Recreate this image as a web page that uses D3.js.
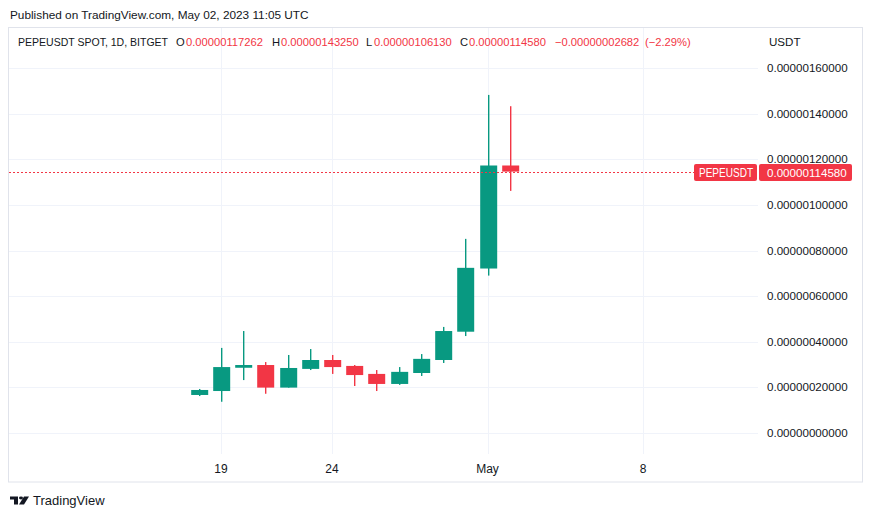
<!DOCTYPE html>
<html><head><meta charset="utf-8">
<script src="https://cdn.jsdelivr.net/npm/d3@7"></script>
<style>
html,body{margin:0;padding:0;background:#fff;}
svg{display:block;font-family:"Liberation Sans",Arial,sans-serif;}
</style></head>
<body><svg id="c" width="873" height="518"></svg>
<script>
const dates = ["2023-04-18","2023-04-19","2023-04-20","2023-04-21","2023-04-22","2023-04-23","2023-04-24","2023-04-25","2023-04-26","2023-04-27","2023-04-28","2023-04-29","2023-04-30","2023-05-01","2023-05-02"];
const openV  = [1.667e-7,1.84e-7,2.86e-7,2.98e-7,1.99e-7,2.81e-7,3.20e-7,2.94e-7,2.59e-7,2.15e-7,2.63e-7,3.20e-7,4.44e-7,7.21e-7,1.17262e-6];
const highV  = [1.93e-7,3.73e-7,4.47e-7,3.11e-7,3.42e-7,3.68e-7,3.42e-7,2.98e-7,2.76e-7,2.89e-7,3.46e-7,4.65e-7,8.51e-7,1.482e-6,1.4325e-6];
const lowV   = [1.62e-7,1.37e-7,2.32e-7,1.72e-7,1.99e-7,2.76e-7,2.59e-7,2.06e-7,1.84e-7,2.11e-7,2.50e-7,3.07e-7,4.25e-7,6.90e-7,1.0613e-6];
const closeV = [1.886e-7,2.89e-7,2.98e-7,1.99e-7,2.85e-7,3.20e-7,2.89e-7,2.54e-7,2.15e-7,2.68e-7,3.25e-7,4.47e-7,7.24e-7,1.17262e-6,1.1458e-6];
const yTicks = [0,2e-7,4e-7,6e-7,8e-7,1e-6,1.2e-6,1.4e-6,1.6e-6];
const xTickDates = ["2023-04-19","2023-04-24","2023-05-01","2023-05-08"];
const xTickLabels = ["19","24","May","8"];
const lastPrice = 1.1458e-6;
const symbol = "PEPEUSDT";
const changeV = -2.682e-8;
const changePct = "(\u22122.29%)";

const GREEN = "#089981", RED = "#f23645", TXT = "#131722", GRID = "#f0f3fa";
const svg = d3.select("#c");
const parse = d3.utcParse("%Y-%m-%d");

const x = d3.scaleUtc().domain([parse("2023-04-19"), parse("2023-05-08")]).range([221, 643]);
const y = d3.scaleLinear().domain([0, 1.6e-6]).range([433, 68]);
const dayW = x(parse("2023-04-20")) - x(parse("2023-04-19"));
const bodyW = Math.round(dayW * 0.76);

const plotL = 9, plotR = 758, plotT = 28, plotB = 454;

// frame
svg.append("rect").attr("x",8.5).attr("y",27.5).attr("width",854).attr("height",454.5)
  .attr("fill","none").attr("stroke","#e0e3eb");

// grid
svg.append("g").selectAll("line").data(yTicks).join("line")
  .attr("x1",plotL).attr("x2",plotR).attr("y1",d=>Math.round(y(d))+0.5).attr("y2",d=>Math.round(y(d))+0.5)
  .attr("stroke",GRID);
svg.append("g").selectAll("line").data(xTickDates).join("line")
  .attr("x1",d=>Math.round(x(parse(d)))+0.5).attr("x2",d=>Math.round(x(parse(d)))+0.5)
  .attr("y1",plotT).attr("y2",plotB).attr("stroke",GRID);

// x tick labels
svg.append("g").selectAll("text").data(xTickDates).join("text")
  .attr("x",d=>x(parse(d))).attr("y",473).attr("text-anchor","middle")
  .attr("font-size",12).attr("fill",TXT).text((d,i)=>xTickLabels[i]);

// y tick labels
const fmt = d3.format(".11f");
svg.append("g").selectAll("text").data(yTicks).join("text")
  .attr("x",767).attr("y",d=>y(d)+4).attr("font-size",11.6).attr("fill",TXT).text(d=>fmt(d));
svg.append("text").attr("x",769).attr("y",46).attr("font-size",11.6).attr("fill",TXT).text("USDT");

// candles
const data = dates.map((d,i)=>({t:parse(d),o:openV[i],h:highV[i],l:lowV[i],c:closeV[i]}));
const g = svg.append("g");
data.forEach(d=>{
  const cx = Math.round(x(d.t));
  const col = d.c >= d.o ? GREEN : RED;
  g.append("rect").attr("x",cx).attr("width",1.4)
    .attr("y",y(d.h)).attr("height",y(d.l)-y(d.h)).attr("fill",col);
  const top = y(Math.max(d.o,d.c)), bot = y(Math.min(d.o,d.c));
  g.append("rect").attr("x",cx+0.7-bodyW/2).attr("width",bodyW)
    .attr("y",top).attr("height",Math.max(1,bot-top)).attr("fill",col);
});

// last price line
const ly = Math.round(y(lastPrice))+0.5;
svg.append("line").attr("x1",plotL).attr("x2",694).attr("y1",ly).attr("y2",ly)
  .attr("stroke",RED).attr("stroke-width",1).attr("stroke-dasharray","2,2");
svg.append("rect").attr("x",694).attr("y",ly-8.5).attr("width",63).attr("height",17).attr("rx",2).attr("fill",RED);
svg.append("text").attr("x",699).attr("y",ly+4.5).attr("font-size",12)
  .attr("textLength",54).attr("lengthAdjust","spacingAndGlyphs")
  .attr("fill","#fff").text(symbol);
svg.append("rect").attr("x",759).attr("y",ly-8.5).attr("width",93).attr("height",17).attr("rx",2).attr("fill",RED);
svg.append("text").attr("x",767).attr("y",ly+4.5).attr("font-size",11.6).attr("fill","#fff").text(fmt(lastPrice));

// header
svg.append("text").attr("x",10).attr("y",19).attr("font-size",11.8).attr("fill",TXT)
  .text("Published on TradingView.com, May 02, 2023 11:05 UTC");
const lastI = data.length-1;
const parts = [
  [18,"PEPEUSDT SPOT, 1D, BITGET",TXT,150],
  [176,"O",TXT,0],[186,fmt(openV[lastI]),RED,0],
  [272,"H",TXT,0],[281,fmt(highV[lastI]),RED,0],
  [366,"L",TXT,0],[374,fmt(lowV[lastI]),RED,0],
  [460,"C",TXT,0],[469,fmt(closeV[lastI]),RED,0],
  [555,"\u2212"+fmt(Math.abs(changeV)),RED,0],[645,changePct,RED,0]
];
const ht = svg.append("g").selectAll("text").data(parts).join("text")
  .attr("x",d=>d[0]).attr("y",46).attr("font-size",11.2).attr("fill",d=>d[2]).text(d=>d[1]);
ht.filter(d=>d[3]>0).attr("textLength",d=>d[3]).attr("lengthAdjust","spacingAndGlyphs");

// logo
const lg = svg.append("g").attr("transform","translate(10,496.5) scale(1,0.72)").attr("fill",TXT);
lg.append("path").attr("d","M0 0H8V11H4V4H0Z");
lg.append("circle").attr("cx",11).attr("cy",2).attr("r",2);
lg.append("path").attr("d","M14 0H19L14 11H9Z");
svg.append("text").attr("x",33).attr("y",505).attr("font-size",13).attr("fill",TXT).text("TradingView");
</script></body></html>
